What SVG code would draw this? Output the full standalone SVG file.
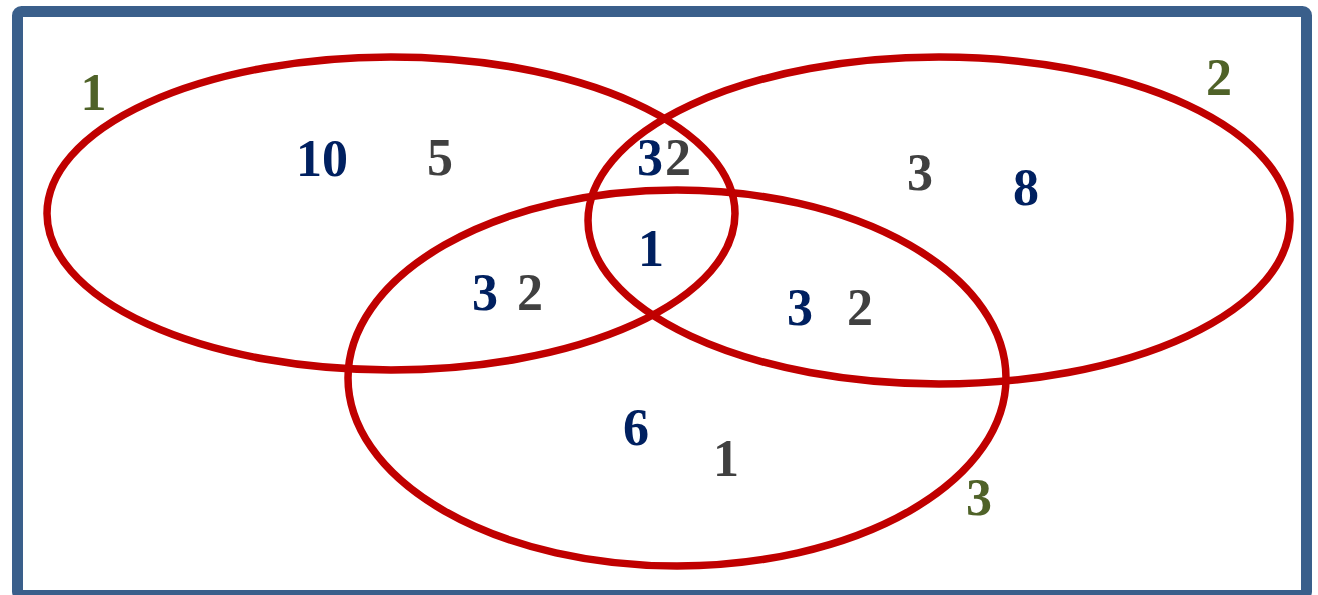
<svg xmlns="http://www.w3.org/2000/svg" width="1318" height="595" viewBox="0 0 1318 595">
<style>
.ell{fill:none;stroke:#C00000;stroke-width:7.5}
.t{font-family:"Liberation Serif","Times New Roman",serif;font-weight:bold;font-size:52px;text-anchor:middle}
.n{fill:#002060}
.g{fill:#404040}
.o{fill:#4F6228}
</style>
<rect x="17.5" y="11.5" width="1289" height="584" rx="4" fill="#FFFFFF" stroke="#3A5F8B" stroke-width="11"/>
<g id="set1"><ellipse class="ell" cx="391" cy="213.5" rx="344" ry="156.5"/></g>
<g id="set2"><ellipse class="ell" cx="939" cy="220.5" rx="351" ry="163.5"/></g>
<g id="set3"><ellipse class="ell" cx="677" cy="378" rx="329" ry="188"/></g>
<g id="connectors"></g>
<g id="labels">
<text class="t o" x="93.5" y="110">1</text>
<text class="t o" x="1219" y="95">2</text>
<text class="t o" x="979" y="515">3</text>
<text class="t n" x="322" y="176">10</text>
<text class="t g" x="440" y="175">5</text>
<text class="t n" x="650" y="175">3</text>
<text class="t g" x="678" y="175">2</text>
<text class="t n" x="651" y="266">1</text>
<text class="t n" x="485" y="310">3</text>
<text class="t g" x="530" y="310">2</text>
<text class="t n" x="800" y="325">3</text>
<text class="t g" x="860" y="325">2</text>
<text class="t g" x="920" y="190">3</text>
<text class="t n" x="1026" y="205">8</text>
<text class="t n" x="636" y="445">6</text>
<text class="t g" x="726" y="476">1</text>
</g>
</svg>
